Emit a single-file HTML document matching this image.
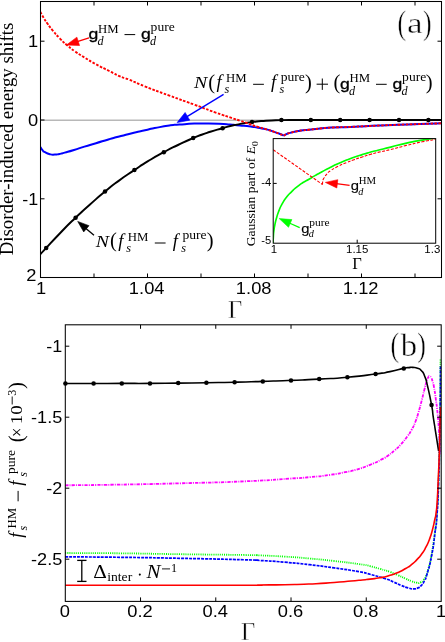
<!DOCTYPE html>
<html><head><meta charset="utf-8"><title>figure</title>
<style>html,body{margin:0;padding:0;background:#fff;}svg{display:block;will-change:transform;opacity:0.999;}</style>
</head><body>
<svg width="445" height="642" viewBox="0 0 445 642">
<rect x="0" y="0" width="445" height="642" fill="#fff"/>
<clipPath id="ca"><rect x="40.5" y="1.5" width="401.0" height="276.0"/></clipPath>
<g clip-path="url(#ca)">
<line x1="40.5" y1="120.3" x2="441.5" y2="120.3" stroke="#b8b8b8" stroke-width="1.5" />
<path d="M40.4 147.1 C41.1 148.13 41 148.5 42.5 150.2 C44 151.9 42.47 150.87 44.9 152.2 C47.33 153.53 46.5 153.4 49.8 154.2 C53.1 155 51.57 154.7 54.8 154.6 C58.03 154.5 56.2 154.57 59.5 153.9 C62.8 153.23 59.87 153.9 64.7 152.6 C69.53 151.3 67.43 152 74 150 C80.57 148 77.07 148.87 84.4 146.6 C91.73 144.33 87.73 145.67 96 143.2 C104.27 140.73 100.87 141.6 109.2 139.2 C117.53 136.8 112.77 138.17 121 136 C129.23 133.83 125.9 134.63 133.9 132.7 C141.9 130.77 138.07 131.73 145 130.2 C151.93 128.67 146.57 129.67 154.7 128.1 C162.83 126.53 161.17 126.67 169.4 125.5 C177.63 124.33 171.13 125.23 179.4 124.6 C187.67 123.97 185.93 123.97 194.2 123.6 C202.47 123.23 195.97 123.43 204.2 123.5 C212.43 123.57 210.3 123.47 218.9 123.8 C227.5 124.13 224.63 124.1 230 124.5 C235.37 124.9 231.67 124.7 235 125 C238.33 125.3 234.77 124.9 240 125.4 C245.23 125.9 244.7 125.7 250.7 126.5 C256.7 127.3 252.73 126.83 258 127.8 C263.27 128.77 261.07 128.03 266.5 129.4 C271.93 130.77 269.97 130.43 274.3 131.9 C278.63 133.37 276.33 132.57 279.5 133.8 C282.67 135.03 282.37 135 283.8 135.6" fill="none" stroke="#0000ff" stroke-width="2" />
<path d="M283.8 135.6 C284.7 135.1 284.43 135 286.5 134.1 C288.57 133.2 286.2 133.9 290 132.9 C293.8 131.9 293.57 131.97 297.9 131.1 C302.23 130.23 299.33 130.73 303 130.3 C306.67 129.87 303.23 130.4 308.9 129.8 C314.57 129.2 312.1 129.27 320 128.5 C327.9 127.73 322.6 128.03 332.6 127.5 C342.6 126.97 339.13 127.33 350 126.9 C360.87 126.47 355.2 126.67 365.2 126.2 C375.2 125.73 369.17 125.97 380 125.5 C390.83 125.03 384.37 125.3 397.7 124.8 C411.03 124.3 405.33 124.5 420 124 C434.67 123.5 434.47 123.53 441.7 123.3" fill="none" stroke="#0000ff" stroke-width="2" />
<path d="M40.4 254 C42.13 252.2 39.07 255.53 45.6 248.6 C52.13 241.67 50.2 243.33 60 233.2 C69.8 223.07 65 227.77 75 218.2 C85 208.63 80.1 213.3 90 204.5 C99.9 195.7 95.03 199.77 104.7 191.8 C114.37 183.83 109.27 187.73 119 180.6 C128.73 173.47 124.23 176.87 133.9 170.4 C143.57 163.93 138.17 167.2 148 161.2 C157.83 155.2 153.4 157.8 163.4 152.4 C173.4 147 168.13 149.73 178 145 C187.87 140.27 183.33 142.23 193 138.2 C202.67 134.17 197.2 136.23 207 132.9 C216.8 129.57 212.4 130.97 222.4 128.2 C232.4 125.43 227.13 126.63 237 124.6 C246.87 122.57 242.33 123.4 252 122.1 C261.67 120.8 256.1 121.37 266 120.7 C275.9 120.03 271.7 120.33 281.7 120.1 C291.7 119.87 286.3 120.03 296 120 C305.7 119.97 296.07 120 310.8 120 C325.53 120 320.6 120 340.2 120 C359.8 120 350 120 369.6 120 C389.2 120 379.4 120 399 120 C418.6 120 414.07 120 428.4 120 C442.73 120 437.47 120 442 120" fill="none" stroke="#000" stroke-width="1.95" />
<circle cx="46.2" cy="247.96" r="2.25" fill="#000"/>
<circle cx="75.6" cy="217.65" r="2.25" fill="#000"/>
<circle cx="105" cy="191.57" r="2.25" fill="#000"/>
<circle cx="134.4" cy="170.07" r="2.25" fill="#000"/>
<circle cx="163.8" cy="152.2" r="2.25" fill="#000"/>
<circle cx="193.2" cy="138.12" r="2.25" fill="#000"/>
<circle cx="222.6" cy="128.15" r="2.25" fill="#000"/>
<circle cx="252" cy="122.1" r="2.25" fill="#000"/>
<circle cx="281.4" cy="120.11" r="2.25" fill="#000"/>
<circle cx="310.8" cy="120" r="2.25" fill="#000"/>
<circle cx="340.2" cy="120" r="2.25" fill="#000"/>
<circle cx="369.6" cy="120" r="2.25" fill="#000"/>
<circle cx="399" cy="120" r="2.25" fill="#000"/>
<circle cx="428.4" cy="120" r="2.25" fill="#000"/>
<path d="M40.4 11.9 C41.43 13.77 41.17 13.63 43.5 17.5 C45.83 21.37 44.23 19.07 47.4 23.5 C50.57 27.93 48.9 25.87 53 30.8 C57.1 35.73 55 33.5 59.7 38.3 C64.4 43.1 62 40.83 67.1 45.2 C72.2 49.57 69.23 47.33 75 51.4 C80.77 55.47 77.4 53.1 84.4 57.4 C91.4 61.7 87.73 59.77 96 64.3 C104.27 68.83 101.2 66.97 109.2 71 C117.2 75.03 113.4 73.53 120 76.4 C126.6 79.27 120.77 76.3 129 79.6 C137.23 82.9 131.23 80.97 144.7 86.3 C158.17 91.63 152.9 89.5 169.4 95.6 C185.9 101.7 178.77 98.93 194.2 104.6 C209.63 110.27 203.27 108.17 215.7 112.6 C228.13 117.03 223.37 115.2 231.5 117.9 C239.63 120.6 234.87 118.93 240.1 120.7 C245.33 122.47 243.67 121.93 247.2 123.2 C250.73 124.47 247.1 123.27 250.7 124.5 C254.3 125.73 252.73 125.27 258 126.9 C263.27 128.53 261.07 127.73 266.5 129.4 C271.93 131.07 269.97 130.43 274.3 131.9 C278.63 133.37 276.33 132.57 279.5 133.8 C282.67 135.03 282.37 135 283.8 135.6" fill="none" stroke="#ff0000" stroke-width="1.9" stroke-dasharray="2.6 1.5" />
<path d="M283.8 135.6 C284.7 135.1 284.43 135 286.5 134.1 C288.57 133.2 286.2 133.9 290 132.9 C293.8 131.9 293.57 131.97 297.9 131.1 C302.23 130.23 299.33 130.73 303 130.3 C306.67 129.87 303.23 130.4 308.9 129.8 C314.57 129.2 312.1 129.27 320 128.5 C327.9 127.73 322.6 128.03 332.6 127.5 C342.6 126.97 339.13 127.33 350 126.9 C360.87 126.47 355.2 126.67 365.2 126.2 C375.2 125.73 369.17 125.97 380 125.5 C390.83 125.03 384.37 125.3 397.7 124.8 C411.03 124.3 405.33 124.5 420 124 C434.67 123.5 434.47 123.53 441.7 123.3" fill="none" stroke="#ff0000" stroke-width="1.9" stroke-dasharray="2.6 1.5" />
</g>
<rect x="40.5" y="1.5" width="401.0" height="276.0" fill="none" stroke="#000" stroke-width="1.05"/>
<line x1="94" y1="277.5" x2="94" y2="273.5" stroke="#000" stroke-width="1" />
<line x1="94" y1="1.5" x2="94" y2="5.5" stroke="#000" stroke-width="1" />
<line x1="147.5" y1="277.5" x2="147.5" y2="273.5" stroke="#000" stroke-width="1" />
<line x1="147.5" y1="1.5" x2="147.5" y2="5.5" stroke="#000" stroke-width="1" />
<line x1="201" y1="277.5" x2="201" y2="273.5" stroke="#000" stroke-width="1" />
<line x1="201" y1="1.5" x2="201" y2="5.5" stroke="#000" stroke-width="1" />
<line x1="254.5" y1="277.5" x2="254.5" y2="273.5" stroke="#000" stroke-width="1" />
<line x1="254.5" y1="1.5" x2="254.5" y2="5.5" stroke="#000" stroke-width="1" />
<line x1="308" y1="277.5" x2="308" y2="273.5" stroke="#000" stroke-width="1" />
<line x1="308" y1="1.5" x2="308" y2="5.5" stroke="#000" stroke-width="1" />
<line x1="361.5" y1="277.5" x2="361.5" y2="273.5" stroke="#000" stroke-width="1" />
<line x1="361.5" y1="1.5" x2="361.5" y2="5.5" stroke="#000" stroke-width="1" />
<line x1="415" y1="277.5" x2="415" y2="273.5" stroke="#000" stroke-width="1" />
<line x1="415" y1="1.5" x2="415" y2="5.5" stroke="#000" stroke-width="1" />
<line x1="40.5" y1="41.2" x2="44.5" y2="41.2" stroke="#000" stroke-width="1" />
<line x1="441.5" y1="41.2" x2="437.5" y2="41.2" stroke="#000" stroke-width="1" />
<line x1="40.5" y1="120" x2="44.5" y2="120" stroke="#000" stroke-width="1" />
<line x1="441.5" y1="120" x2="437.5" y2="120" stroke="#000" stroke-width="1" />
<line x1="40.5" y1="198.8" x2="44.5" y2="198.8" stroke="#000" stroke-width="1" />
<line x1="441.5" y1="198.8" x2="437.5" y2="198.8" stroke="#000" stroke-width="1" />
<text x="38.2" y="46.9" font-family='"Liberation Sans", sans-serif' font-size="16.5" text-anchor="end" fill="#000" textLength="10.18" lengthAdjust="spacingAndGlyphs" >1</text>
<text x="38.2" y="126" font-family='"Liberation Sans", sans-serif' font-size="16.5" text-anchor="end" fill="#000" textLength="10.18" lengthAdjust="spacingAndGlyphs" >0</text>
<text x="38.2" y="204.6" font-family='"Liberation Sans", sans-serif' font-size="16.5" text-anchor="end" fill="#000" textLength="15.95" lengthAdjust="spacingAndGlyphs" >-1</text>
<text x="36.5" y="281.3" font-family='"Liberation Sans", sans-serif' font-size="16.5" text-anchor="end" fill="#000" textLength="10.18" lengthAdjust="spacingAndGlyphs" >2</text>
<text x="41" y="294.4" font-family='"Liberation Sans", sans-serif' font-size="16.5" text-anchor="middle" fill="#000" textLength="10.18" lengthAdjust="spacingAndGlyphs" >1</text>
<text x="146.7" y="294.4" font-family='"Liberation Sans", sans-serif' font-size="16.5" text-anchor="middle" fill="#000" textLength="35.62" lengthAdjust="spacingAndGlyphs" >1.04</text>
<text x="253.7" y="294.4" font-family='"Liberation Sans", sans-serif' font-size="16.5" text-anchor="middle" fill="#000" textLength="35.62" lengthAdjust="spacingAndGlyphs" >1.08</text>
<text x="360.7" y="294.4" font-family='"Liberation Sans", sans-serif' font-size="16.5" text-anchor="middle" fill="#000" textLength="35.62" lengthAdjust="spacingAndGlyphs" >1.12</text>
<text x="235.2" y="318.2" font-family='"Liberation Serif", serif' font-size="24.6" text-anchor="middle" fill="#000" stroke="#fff" stroke-width="0.45">&#915;</text>
<g transform="translate(12.8,139) rotate(-90)">
<text x="0" y="0" font-family='"Liberation Serif", serif' font-size="18" text-anchor="middle" fill="#000" textLength="232.6" lengthAdjust="spacingAndGlyphs" >Disorder-induced energy shifts</text>
</g>
<text x="397.6" y="33.9" font-family='"Liberation Serif", serif' font-size="34.5" text-anchor="start" fill="#000" textLength="8.6" lengthAdjust="spacingAndGlyphs" stroke="#fff" stroke-width="0.45">(</text>
<text x="407" y="33.4" font-family='"Liberation Serif", serif' font-size="30" text-anchor="start" fill="#000" textLength="15.6" lengthAdjust="spacingAndGlyphs" stroke="#fff" stroke-width="0.45">a</text>
<text x="423" y="33.9" font-family='"Liberation Serif", serif' font-size="34.5" text-anchor="start" fill="#000" textLength="8.6" lengthAdjust="spacingAndGlyphs" stroke="#fff" stroke-width="0.45">)</text>
<rect x="273.2" y="138.6" width="162.5" height="104.6" fill="#fff" stroke="none"/>
<clipPath id="ci"><rect x="273.2" y="138.6" width="162.5" height="104.6"/></clipPath>
<g clip-path="url(#ci)">
<path d="M273.1 243.2 C273.2 240.8 273.13 240.17 273.4 236 C273.67 231.83 273.37 234.63 273.9 230.7 C274.43 226.77 274.07 228.63 275 224.2 C275.93 219.77 275.37 221.93 276.7 217.4 C278.03 212.87 277.2 215.1 279 210.6 C280.8 206.1 279.6 208.33 282.1 203.9 C284.6 199.47 283.37 201.33 286.5 197.3 C289.63 193.27 288 195.27 291.5 191.8 C295 188.33 293.17 190 297 186.9 C300.83 183.8 299 185.07 303 182.5 C307 179.93 305 181.5 309 179.2 C313 176.9 310.67 178.1 315 175.6 C319.33 173.1 316.77 174.5 322 171.7 C327.23 168.9 325.2 169.93 330.7 167.2 C336.2 164.47 333.23 165.87 338.5 163.5 C343.77 161.13 341.33 162.17 346.5 160.1 C351.67 158.03 348.77 159.13 354 157.3 C359.23 155.47 356.87 156.27 362.2 154.6 C367.53 152.93 364.77 153.77 370 152.3 C375.23 150.83 371 151.93 377.9 150.2 C384.8 148.47 381.17 149.47 390.7 147.1 C400.23 144.73 396 145.43 406.5 143.1 C417 140.77 412.5 141.83 422.2 140.1 C431.9 138.37 431.13 138.63 435.6 137.9" fill="none" stroke="#00ff00" stroke-width="1.65" />
<path d="M273.2 149.8 L322.5 184.5" fill="none" stroke="#ff0000" stroke-width="1.1" stroke-dasharray="3 1.5" />
<path d="M322.5 184.5 C322.57 183.5 322.43 183.27 322.7 181.5 C322.97 179.73 322.73 180.53 323.3 179.2 C323.87 177.87 323.17 179.3 324.4 177.5 C325.63 175.7 324.9 176.1 327 173.8 C329.1 171.5 327.03 173.1 330.7 170.6 C334.37 168.1 332.73 168.97 338 166.3 C343.27 163.63 341.17 164.8 346.5 162.6 C351.83 160.4 348.77 161.57 354 159.7 C359.23 157.83 356.87 158.73 362.2 157 C367.53 155.27 364.77 156.03 370 154.5 C375.23 152.97 371 154.07 377.9 152.4 C384.8 150.73 381.17 151.83 390.7 149.5 C400.23 147.17 396 147.97 406.5 145.4 C417 142.83 412.5 143.8 422.2 141.8 C431.9 139.8 431.13 140.2 435.6 139.4" fill="none" stroke="#ff0000" stroke-width="1.1" stroke-dasharray="3 1.5" />
</g>
<rect x="273.2" y="138.6" width="162.5" height="104.6" fill="none" stroke="#000" stroke-width="1"/>
<line x1="273.2" y1="183.4" x2="276.7" y2="183.4" stroke="#000" stroke-width="1" />
<line x1="357.2" y1="243.2" x2="357.2" y2="239.7" stroke="#000" stroke-width="1" />
<text x="271.3" y="185.6" font-family='"Liberation Sans", sans-serif' font-size="10.2" text-anchor="end" fill="#000" textLength="9.97" lengthAdjust="spacingAndGlyphs" >-4</text>
<text x="271.3" y="244.3" font-family='"Liberation Sans", sans-serif' font-size="10.2" text-anchor="end" fill="#000" textLength="9.97" lengthAdjust="spacingAndGlyphs" >-5</text>
<text x="274" y="253.2" font-family='"Liberation Sans", sans-serif' font-size="10.2" text-anchor="middle" fill="#000" textLength="6.36" lengthAdjust="spacingAndGlyphs" >1</text>
<text x="357.2" y="253.2" font-family='"Liberation Sans", sans-serif' font-size="10.2" text-anchor="middle" fill="#000" textLength="22.26" lengthAdjust="spacingAndGlyphs" >1.15</text>
<text x="432.3" y="253.2" font-family='"Liberation Sans", sans-serif' font-size="10.2" text-anchor="middle" fill="#000" textLength="15.9" lengthAdjust="spacingAndGlyphs" >1.3</text>
<text x="356.9" y="268.6" font-family='"Liberation Serif", serif' font-size="16.5" text-anchor="middle" fill="#000" >&#915;</text>
<g transform="translate(255.3,193.7) rotate(-90)">
<text x="0" y="0" font-family='"Liberation Serif", serif' font-size="13" text-anchor="middle" fill="#000" textLength="105" lengthAdjust="spacingAndGlyphs" >Gaussian part of <tspan font-style="italic">E</tspan><tspan font-size="9.2" dy="2.6">0</tspan></text>
</g>
<clipPath id="cb"><rect x="65.3" y="324.8" width="375.9" height="276.59999999999997"/></clipPath>
<g clip-path="url(#cb)">
<path d="M65 485.3 C83.33 485.07 81.67 485.27 120 484.6 C158.33 483.93 138.33 484.4 180 483.3 C221.67 482.2 208.33 482.87 245 481.3 C281.67 479.73 268.33 480 290 478.6 C311.67 477.2 296.67 478.33 310 477.1 C323.33 475.87 318.33 476.53 330 474.9 C341.67 473.27 336.4 473.9 345 472.2 C353.6 470.5 347.47 472.27 355.8 469.8 C364.13 467.33 361.37 468.27 370 464.8 C378.63 461.33 375.53 462.6 381.7 459.4 C387.87 456.2 384.2 458.2 388.5 455.2 C392.8 452.2 390.43 454.07 394.6 450.4 C398.77 446.73 396.7 448.93 401 444.2 C405.3 439.47 404 440.93 407.5 436.2 C411 431.47 408.9 434.73 411.5 430 C414.1 425.27 412.93 428 415.3 422 C417.67 416 416.47 419.17 418.6 412 C420.73 404.83 419.8 407.83 421.7 400.5 C423.6 393.17 422.7 396.27 424.3 390 C425.9 383.73 425.17 385.93 426.5 381.7 C427.83 377.47 427.23 379.1 428.3 377.3 C429.37 375.5 428.73 376.13 429.7 376.3 C430.67 376.47 430.23 376.07 431.2 377.8 C432.17 379.53 431.7 378.53 432.6 381.5 C433.5 384.47 432.83 380.87 433.9 386.7 C434.97 392.53 434.57 389.93 435.8 399 C437.03 408.07 436.53 402.9 437.6 413.9 C438.67 424.9 438.2 418.3 439 432 C439.8 445.7 439.67 447.33 440 455" fill="none" stroke="#ff00ff" stroke-width="1.8" stroke-dasharray="3.3 1.1 1 1.1" />
<path d="M65 553 C83.33 553.1 81.67 552.9 120 553.3 C158.33 553.7 138.33 553.63 180 554.2 C221.67 554.77 218.33 554.6 245 555 C271.67 555.4 246.77 554.87 260 555.4 C273.23 555.93 268.23 555.57 284.7 556.6 C301.17 557.63 292.9 557.03 309.4 558.5 C325.9 559.97 317.7 559.13 334.2 561 C350.7 562.87 346.97 562.4 358.9 564.1 C370.83 565.8 363.03 564.53 370 566.1 C376.97 567.67 373.13 566.87 379.8 568.8 C386.47 570.73 383.93 569.77 390 571.9 C396.07 574.03 392.77 572.93 398 575.2 C403.23 577.47 401.2 576.7 405.7 578.7 C410.2 580.7 407.77 579.87 411.5 581.2 C415.23 582.53 413.9 582.3 416.9 582.7 C419.9 583.1 418.23 583.37 420.5 582.4 C422.77 581.43 421.87 581.93 423.7 579.8 C425.53 577.67 424.53 579.37 426 576 C427.47 572.63 426.27 576.7 428.1 569.7 C429.93 562.7 429.23 567.57 431.5 555 C433.77 542.43 433.03 546.67 434.9 532 C436.77 517.33 435.87 528.33 437.1 511 C438.33 493.67 437.77 503.67 438.6 480 C439.43 456.33 439.07 466.67 439.6 440 C440.13 413.33 439.9 427.1 440.2 400 C440.5 372.9 440.4 372.47 440.5 358.7" fill="none" stroke="#00ff00" stroke-width="1.8" stroke-dasharray="1.05 1.1" />
<path d="M65 556.9 C83.33 557.03 81.67 556.83 120 557.3 C158.33 557.77 138.33 557.47 180 558.3 C221.67 559.13 218.33 559.07 245 559.8 C271.67 560.53 246.77 559.7 260 560.5 C273.23 561.3 268.23 560.8 284.7 562.2 C301.17 563.6 292.9 562.8 309.4 564.7 C325.9 566.6 317.7 565.57 334.2 567.9 C350.7 570.23 346.97 569.57 358.9 571.7 C370.83 573.83 361.17 571.97 370 574.3 C378.83 576.63 377.4 576.07 385.4 578.7 C393.4 581.33 388.73 579.97 394 582.2 C399.27 584.43 396.53 583.5 401.2 585.4 C405.87 587.3 403.9 586.77 408 587.9 C412.1 589.03 410.17 588.8 413.5 588.8 C416.83 588.8 415.37 589.03 418 587.9 C420.63 586.77 419.23 587.83 421.4 585.4 C423.57 582.97 422.63 584.33 424.5 580.6 C426.37 576.87 424.67 582.33 427 574.2 C429.33 566.07 428.87 569.7 431.5 556.2 C434.13 542.7 433.03 547.93 434.9 533.7 C436.77 519.47 435.87 530.73 437.1 513.5 C438.33 496.27 437.77 504.83 438.6 482 C439.43 459.17 439.07 470.67 439.6 445 C440.13 419.33 439.9 431.43 440.2 405 C440.5 378.57 440.4 378.8 440.5 365.7" fill="none" stroke="#0000ff" stroke-width="1.7" stroke-dasharray="3 1" />
<path d="M65 383.5 C74.4 383.5 74.4 383.53 93.2 383.5 C112 383.47 102.63 383.43 121.4 383.4 C140.17 383.37 130.7 383.5 149.5 383.4 C168.3 383.3 158.93 383.33 177.8 383.1 C196.67 382.87 187.23 383 206.1 382.7 C224.97 382.4 215.67 382.63 234.4 382.2 C253.13 381.77 243.57 382 262.3 381.4 C281.03 380.8 271.73 381.17 290.6 380.4 C309.47 379.63 299.97 380.17 318.9 379.1 C337.83 378.03 328.6 378.9 347.4 377.2 C366.2 375.5 361.1 375.87 375.3 374 C389.5 372.13 380.53 373.47 390 371.6 C399.47 369.73 397.53 369.73 403.7 368.4 C409.87 367.07 405.43 367.93 408.5 367.6 C411.57 367.27 409.9 367.2 412.9 367.4 C415.9 367.6 414.63 367.07 417.5 368.2 C420.37 369.33 419.07 368.03 421.5 370.8 C423.93 373.57 422.73 371.2 424.8 376.5 C426.87 381.8 425.43 377.13 427.7 386.7 C429.97 396.27 429.8 395.43 431.6 405.2 C433.4 414.97 432.1 409.23 433.1 416 C434.1 422.77 433.5 418.5 434.6 425.5 C435.7 432.5 435.07 428.5 436.4 437 C437.73 445.5 437.87 446.33 438.6 451" fill="none" stroke="#000" stroke-width="1.6" />
<path d="M65 585.2 C93.33 585.2 90 585.2 150 585.2 C210 585.2 208.33 585.27 245 585.2 C281.67 585.13 246.77 585.17 260 585 C273.23 584.83 268.23 585.03 284.7 584.7 C301.17 584.37 292.9 584.73 309.4 584 C325.9 583.27 317.7 583.73 334.2 582.5 C350.7 581.27 346.97 581.43 358.9 580.3 C370.83 579.17 363.03 579.93 370 579.1 C376.97 578.27 373.13 579.07 379.8 577.8 C386.47 576.53 383.93 577.1 390 575.3 C396.07 573.5 392.77 574.67 398 572.4 C403.23 570.13 401.2 571.1 405.7 568.5 C410.2 565.9 407.77 567.57 411.5 564.6 C415.23 561.63 413.57 563.07 416.9 559.6 C420.23 556.13 418.5 558.33 421.5 554.2 C424.5 550.07 423.23 552.2 425.9 547.2 C428.57 542.2 427.27 545.2 429.5 539.2 C431.73 533.2 430.87 535.6 432.6 529.2 C434.33 522.8 433.57 525.23 434.7 520 C435.83 514.77 435.17 519.83 436 513.5 C436.83 507.17 436.47 512.17 437.2 501 C437.93 489.83 437.47 496.67 438.2 480 C438.93 463.33 438.73 471 439.4 451 C440.07 431 439.8 434.67 440.2 420 C440.6 405.33 440.47 411.33 440.6 407" fill="none" stroke="#ff0000" stroke-width="1.6" />
</g>
<circle cx="65.4" cy="383.5" r="2.25" fill="#000"/>
<circle cx="93.6" cy="383.5" r="2.25" fill="#000"/>
<circle cx="121.8" cy="383.4" r="2.25" fill="#000"/>
<circle cx="150" cy="383.39" r="2.25" fill="#000"/>
<circle cx="178.2" cy="383.09" r="2.25" fill="#000"/>
<circle cx="206.4" cy="382.69" r="2.25" fill="#000"/>
<circle cx="234.6" cy="382.19" r="2.25" fill="#000"/>
<circle cx="262.8" cy="381.38" r="2.25" fill="#000"/>
<circle cx="291" cy="380.38" r="2.25" fill="#000"/>
<circle cx="319.2" cy="379.08" r="2.25" fill="#000"/>
<circle cx="347.4" cy="377.2" r="2.25" fill="#000"/>
<circle cx="375.6" cy="373.95" r="2.25" fill="#000"/>
<circle cx="403.8" cy="368.38" r="2.25" fill="#000"/>
<circle cx="431.55" cy="404.96" r="2.25" fill="#000"/>
<rect x="65.3" y="324.8" width="375.9" height="276.59999999999997" fill="none" stroke="#000" stroke-width="1.05"/>
<line x1="140.54" y1="601.4" x2="140.54" y2="597.4" stroke="#000" stroke-width="1" />
<line x1="140.54" y1="324.8" x2="140.54" y2="328.8" stroke="#000" stroke-width="1" />
<line x1="215.78" y1="601.4" x2="215.78" y2="597.4" stroke="#000" stroke-width="1" />
<line x1="215.78" y1="324.8" x2="215.78" y2="328.8" stroke="#000" stroke-width="1" />
<line x1="291.02" y1="601.4" x2="291.02" y2="597.4" stroke="#000" stroke-width="1" />
<line x1="291.02" y1="324.8" x2="291.02" y2="328.8" stroke="#000" stroke-width="1" />
<line x1="366.26" y1="601.4" x2="366.26" y2="597.4" stroke="#000" stroke-width="1" />
<line x1="366.26" y1="324.8" x2="366.26" y2="328.8" stroke="#000" stroke-width="1" />
<line x1="65.3" y1="346.2" x2="69.3" y2="346.2" stroke="#000" stroke-width="1" />
<line x1="441.2" y1="346.2" x2="437.2" y2="346.2" stroke="#000" stroke-width="1" />
<line x1="65.3" y1="417.2" x2="69.3" y2="417.2" stroke="#000" stroke-width="1" />
<line x1="441.2" y1="417.2" x2="437.2" y2="417.2" stroke="#000" stroke-width="1" />
<line x1="65.3" y1="488.2" x2="69.3" y2="488.2" stroke="#000" stroke-width="1" />
<line x1="441.2" y1="488.2" x2="437.2" y2="488.2" stroke="#000" stroke-width="1" />
<line x1="65.3" y1="559.2" x2="69.3" y2="559.2" stroke="#000" stroke-width="1" />
<line x1="441.2" y1="559.2" x2="437.2" y2="559.2" stroke="#000" stroke-width="1" />
<text x="62.3" y="351.8" font-family='"Liberation Sans", sans-serif' font-size="16.5" text-anchor="end" fill="#000" textLength="15.95" lengthAdjust="spacingAndGlyphs" >-1</text>
<text x="62.3" y="422.8" font-family='"Liberation Sans", sans-serif' font-size="16.5" text-anchor="end" fill="#000" textLength="31.22" lengthAdjust="spacingAndGlyphs" >-1.5</text>
<text x="62.3" y="493.8" font-family='"Liberation Sans", sans-serif' font-size="16.5" text-anchor="end" fill="#000" textLength="15.95" lengthAdjust="spacingAndGlyphs" >-2</text>
<text x="62.3" y="564.8" font-family='"Liberation Sans", sans-serif' font-size="16.5" text-anchor="end" fill="#000" textLength="31.22" lengthAdjust="spacingAndGlyphs" >-2.5</text>
<text x="64.8" y="617.1" font-family='"Liberation Sans", sans-serif' font-size="16.5" text-anchor="middle" fill="#000" textLength="10.18" lengthAdjust="spacingAndGlyphs" >0</text>
<text x="140.04" y="617.1" font-family='"Liberation Sans", sans-serif' font-size="16.5" text-anchor="middle" fill="#000" textLength="25.44" lengthAdjust="spacingAndGlyphs" >0.2</text>
<text x="215.28" y="617.1" font-family='"Liberation Sans", sans-serif' font-size="16.5" text-anchor="middle" fill="#000" textLength="25.44" lengthAdjust="spacingAndGlyphs" >0.4</text>
<text x="290.52" y="617.1" font-family='"Liberation Sans", sans-serif' font-size="16.5" text-anchor="middle" fill="#000" textLength="25.44" lengthAdjust="spacingAndGlyphs" >0.6</text>
<text x="365.76" y="617.1" font-family='"Liberation Sans", sans-serif' font-size="16.5" text-anchor="middle" fill="#000" textLength="25.44" lengthAdjust="spacingAndGlyphs" >0.8</text>
<text x="441" y="617.1" font-family='"Liberation Sans", sans-serif' font-size="16.5" text-anchor="middle" fill="#000" textLength="10.18" lengthAdjust="spacingAndGlyphs" >1</text>
<text x="248.1" y="640" font-family='"Liberation Serif", serif' font-size="24.6" text-anchor="middle" fill="#000" stroke="#fff" stroke-width="0.45">&#915;</text>
<text x="390.4" y="355.9" font-family='"Liberation Serif", serif' font-size="34.5" text-anchor="start" fill="#000" textLength="8.6" lengthAdjust="spacingAndGlyphs" stroke="#fff" stroke-width="0.45">(</text>
<text x="400.8" y="355.5" font-family='"Liberation Serif", serif' font-size="31.5" text-anchor="start" fill="#000" textLength="16.4" lengthAdjust="spacingAndGlyphs" stroke="#fff" stroke-width="0.45">b</text>
<text x="417.2" y="355.9" font-family='"Liberation Serif", serif' font-size="34.5" text-anchor="start" fill="#000" textLength="8.6" lengthAdjust="spacingAndGlyphs" stroke="#fff" stroke-width="0.45">)</text>
<line x1="81.8" y1="560.4" x2="81.8" y2="581.4" stroke="#000" stroke-width="1.3" />
<line x1="77.2" y1="560.4" x2="86.5" y2="560.4" stroke="#000" stroke-width="1.3" />
<line x1="77.2" y1="581.4" x2="86.5" y2="581.4" stroke="#000" stroke-width="1.3" />
<text x="88.5" y="39.2" font-family='"Liberation Sans", sans-serif' font-size="15.2" text-anchor="start" fill="#000" textLength="9.8" lengthAdjust="spacingAndGlyphs" stroke="#000" stroke-width="0.3">g</text>
<text x="97.5" y="44.8" font-family='"Liberation Serif", serif' font-size="12.2" text-anchor="start" fill="#000" font-style="italic" >d</text>
<text x="98" y="32.5" font-family='"Liberation Serif", serif' font-size="12.2" text-anchor="start" fill="#000" textLength="20.6" lengthAdjust="spacingAndGlyphs" >HM</text>
<line x1="124.5" y1="34.6" x2="135.2" y2="34.6" stroke="#000" stroke-width="1.0" />
<text x="141.1" y="39.2" font-family='"Liberation Sans", sans-serif' font-size="15.2" text-anchor="start" fill="#000" textLength="9.8" lengthAdjust="spacingAndGlyphs" stroke="#000" stroke-width="0.3">g</text>
<text x="150.1" y="44.8" font-family='"Liberation Serif", serif' font-size="12.2" text-anchor="start" fill="#000" font-style="italic" >d</text>
<text x="150.6" y="30.9" font-family='"Liberation Serif", serif' font-size="12.2" text-anchor="start" fill="#000" textLength="24.2" lengthAdjust="spacingAndGlyphs" >pure</text>
<line x1="89" y1="37.9" x2="77.26" y2="41.62" stroke="#ff0000" stroke-width="1.4" />
<polygon points="66.3,45.1 76.88,37.13 79.55,45.51" fill="#ff0000" stroke="#ff0000" stroke-width="0.6" stroke-linejoin="miter"/>
<text x="194.1" y="88" font-family='"Liberation Serif", serif' font-size="17.5" text-anchor="start" fill="#000" font-style="italic" textLength="13.2" lengthAdjust="spacingAndGlyphs" >N</text>
<text x="208.3" y="88.6" font-family='"Liberation Serif", serif' font-size="20.5" text-anchor="start" fill="#000" >(</text>
<text x="216.6" y="88" font-family='"Liberation Serif", serif' font-size="18.5" text-anchor="start" fill="#000" font-style="italic" >f</text>
<text x="226.1" y="82.1" font-family='"Liberation Serif", serif' font-size="12.2" text-anchor="start" fill="#000" textLength="20.6" lengthAdjust="spacingAndGlyphs" >HM</text>
<text x="224.5" y="93" font-family='"Liberation Serif", serif' font-size="12.2" text-anchor="start" fill="#000" font-style="italic" >s</text>
<line x1="253.1" y1="84.3" x2="263.9" y2="84.3" stroke="#000" stroke-width="1.0" />
<text x="271" y="88" font-family='"Liberation Serif", serif' font-size="18.5" text-anchor="start" fill="#000" font-style="italic" >f</text>
<text x="280.7" y="80.6" font-family='"Liberation Serif", serif' font-size="12.2" text-anchor="start" fill="#000" textLength="24.2" lengthAdjust="spacingAndGlyphs" >pure</text>
<text x="279.5" y="93" font-family='"Liberation Serif", serif' font-size="12.2" text-anchor="start" fill="#000" font-style="italic" >s</text>
<text x="305.1" y="88.6" font-family='"Liberation Serif", serif' font-size="20.5" text-anchor="start" fill="#000" >)</text>
<line x1="316.6" y1="84.2" x2="328" y2="84.2" stroke="#000" stroke-width="1.0" />
<line x1="322.3" y1="78.5" x2="322.3" y2="89.9" stroke="#000" stroke-width="1.0" />
<text x="333.6" y="88.6" font-family='"Liberation Serif", serif' font-size="20.5" text-anchor="start" fill="#000" >(</text>
<text x="340" y="88.9" font-family='"Liberation Sans", sans-serif' font-size="15.2" text-anchor="start" fill="#000" textLength="9.8" lengthAdjust="spacingAndGlyphs" stroke="#000" stroke-width="0.3">g</text>
<text x="349" y="94.5" font-family='"Liberation Serif", serif' font-size="12.2" text-anchor="start" fill="#000" font-style="italic" >d</text>
<text x="349.5" y="82.2" font-family='"Liberation Serif", serif' font-size="12.2" text-anchor="start" fill="#000" textLength="20.6" lengthAdjust="spacingAndGlyphs" >HM</text>
<line x1="376" y1="84.3" x2="386.7" y2="84.3" stroke="#000" stroke-width="1.0" />
<text x="392.6" y="88.9" font-family='"Liberation Sans", sans-serif' font-size="15.2" text-anchor="start" fill="#000" textLength="9.8" lengthAdjust="spacingAndGlyphs" stroke="#000" stroke-width="0.3">g</text>
<text x="401.6" y="94.5" font-family='"Liberation Serif", serif' font-size="12.2" text-anchor="start" fill="#000" font-style="italic" >d</text>
<text x="402.1" y="80.6" font-family='"Liberation Serif", serif' font-size="12.2" text-anchor="start" fill="#000" textLength="24.2" lengthAdjust="spacingAndGlyphs" >pure</text>
<text x="425.8" y="88.6" font-family='"Liberation Serif", serif' font-size="20.5" text-anchor="start" fill="#000" >)</text>
<line x1="223.6" y1="94.4" x2="186.59" y2="116.84" stroke="#0000ff" stroke-width="1.4" />
<polygon points="177.1,122.6 185.11,112.48 189.78,120.17" fill="#0000ff" stroke="#0000ff" stroke-width="0.6" stroke-linejoin="miter"/>
<text x="95.8" y="246.7" font-family='"Liberation Serif", serif' font-size="17.5" text-anchor="start" fill="#000" font-style="italic" textLength="13.2" lengthAdjust="spacingAndGlyphs" >N</text>
<text x="110" y="247.3" font-family='"Liberation Serif", serif' font-size="20.5" text-anchor="start" fill="#000" >(</text>
<text x="118.3" y="246.7" font-family='"Liberation Serif", serif' font-size="18.5" text-anchor="start" fill="#000" font-style="italic" >f</text>
<text x="127.8" y="240.8" font-family='"Liberation Serif", serif' font-size="12.2" text-anchor="start" fill="#000" textLength="20.6" lengthAdjust="spacingAndGlyphs" >HM</text>
<text x="126.2" y="251.7" font-family='"Liberation Serif", serif' font-size="12.2" text-anchor="start" fill="#000" font-style="italic" >s</text>
<line x1="154.8" y1="243" x2="165.6" y2="243" stroke="#000" stroke-width="1.0" />
<text x="172.7" y="246.7" font-family='"Liberation Serif", serif' font-size="18.5" text-anchor="start" fill="#000" font-style="italic" >f</text>
<text x="182.4" y="239.3" font-family='"Liberation Serif", serif' font-size="12.2" text-anchor="start" fill="#000" textLength="24.2" lengthAdjust="spacingAndGlyphs" >pure</text>
<text x="181.2" y="251.7" font-family='"Liberation Serif", serif' font-size="12.2" text-anchor="start" fill="#000" font-style="italic" >s</text>
<text x="206.8" y="247.3" font-family='"Liberation Serif", serif' font-size="20.5" text-anchor="start" fill="#000" >)</text>
<line x1="94" y1="235.3" x2="85.61" y2="228.15" stroke="#000" stroke-width="1.3" />
<polygon points="77.7,221.4 89.03,225.68 83.71,231.92" fill="#000" stroke="#000" stroke-width="0.6" stroke-linejoin="miter"/>
<text x="350.81" y="190.06" font-family='"Liberation Sans", sans-serif' font-size="12.767999999999999" text-anchor="start" fill="#000" textLength="8.23" lengthAdjust="spacingAndGlyphs" stroke="#000" stroke-width="0.12">g</text>
<text x="358.37" y="194.76" font-family='"Liberation Serif", serif' font-size="10.248" text-anchor="start" fill="#000" font-style="italic" >d</text>
<text x="358.79" y="184.43" font-family='"Liberation Serif", serif' font-size="10.248" text-anchor="start" fill="#000" textLength="17.3" lengthAdjust="spacingAndGlyphs" >HM</text>
<line x1="349.6" y1="185.3" x2="336.32" y2="183.71" stroke="#ff0000" stroke-width="1.3" />
<polygon points="325.4,182.4 337.81,179.66 336.82,188" fill="#ff0000" stroke="#ff0000" stroke-width="0.6" stroke-linejoin="miter"/>
<text x="301.21" y="232.66" font-family='"Liberation Sans", sans-serif' font-size="12.767999999999999" text-anchor="start" fill="#000" textLength="8.23" lengthAdjust="spacingAndGlyphs" stroke="#000" stroke-width="0.12">g</text>
<text x="308.77" y="237.36" font-family='"Liberation Serif", serif' font-size="10.248" text-anchor="start" fill="#000" font-style="italic" >d</text>
<text x="309.19" y="225.68" font-family='"Liberation Serif", serif' font-size="10.248" text-anchor="start" fill="#000" textLength="20.33" lengthAdjust="spacingAndGlyphs" >pure</text>
<line x1="299.7" y1="227.6" x2="289.27" y2="223.02" stroke="#00ff00" stroke-width="1.3" />
<polygon points="279.2,218.6 291.88,219.58 288.5,227.27" fill="#00ff00" stroke="#00ff00" stroke-width="0.6" stroke-linejoin="miter"/>
<text x="93.2" y="578.3" font-family='"Liberation Serif", serif' font-size="18.3" text-anchor="start" fill="#000" textLength="13.6" lengthAdjust="spacingAndGlyphs" >&#916;</text>
<text x="107.2" y="581.2" font-family='"Liberation Serif", serif' font-size="12.2" text-anchor="start" fill="#000" textLength="25" lengthAdjust="spacingAndGlyphs" >inter</text>
<circle cx="139.8" cy="574.6" r="1.05" fill="#000"/>
<text x="146.4" y="578.3" font-family='"Liberation Serif", serif' font-size="18.3" text-anchor="start" fill="#000" font-style="italic" textLength="14" lengthAdjust="spacingAndGlyphs" >N</text>
<line x1="162" y1="568.9" x2="170" y2="568.9" stroke="#000" stroke-width="0.9" />
<text x="171" y="572.3" font-family='"Liberation Serif", serif' font-size="12.2" text-anchor="start" fill="#000" >1</text>
<g transform="translate(22,538.3) rotate(-90)">
<text x="0.6" y="0" font-family='"Liberation Serif", serif' font-size="18.5" text-anchor="start" fill="#000" font-style="italic" >f</text>
<text x="9.9" y="-5.9" font-family='"Liberation Serif", serif' font-size="12.2" text-anchor="start" fill="#000" textLength="20.6" lengthAdjust="spacingAndGlyphs" >HM</text>
<text x="7.9" y="5" font-family='"Liberation Serif", serif' font-size="12.2" text-anchor="start" fill="#000" font-style="italic" >s</text>
<line x1="37" y1="-3.9" x2="47.4" y2="-3.9" stroke="#000" stroke-width="1.0" />
<text x="52.6" y="0" font-family='"Liberation Serif", serif' font-size="18.5" text-anchor="start" fill="#000" font-style="italic" >f</text>
<text x="64.4" y="-7.4" font-family='"Liberation Serif", serif' font-size="12.2" text-anchor="start" fill="#000" textLength="24" lengthAdjust="spacingAndGlyphs" >pure</text>
<text x="61.5" y="5" font-family='"Liberation Serif", serif' font-size="12.2" text-anchor="start" fill="#000" font-style="italic" >s</text>
<text x="96" y="0.6" font-family='"Liberation Serif", serif' font-size="20.5" text-anchor="start" fill="#000" >(</text>
<text x="101.3" y="0.6" font-family='"Liberation Serif", serif' font-size="19.5" text-anchor="start" fill="#000" textLength="9.4" lengthAdjust="spacingAndGlyphs" >&#215;</text>
<text x="114" y="0" font-family='"Liberation Serif", serif' font-size="17.5" text-anchor="start" fill="#000" textLength="19" lengthAdjust="spacingAndGlyphs" >10</text>
<line x1="133.8" y1="-9.8" x2="141.8" y2="-9.8" stroke="#000" stroke-width="0.9" />
<text x="142.5" y="-6.3" font-family='"Liberation Serif", serif' font-size="12.2" text-anchor="start" fill="#000" >3</text>
<text x="149.3" y="0.6" font-family='"Liberation Serif", serif' font-size="20.5" text-anchor="start" fill="#000" >)</text>
</g>
</svg>
</body></html>
